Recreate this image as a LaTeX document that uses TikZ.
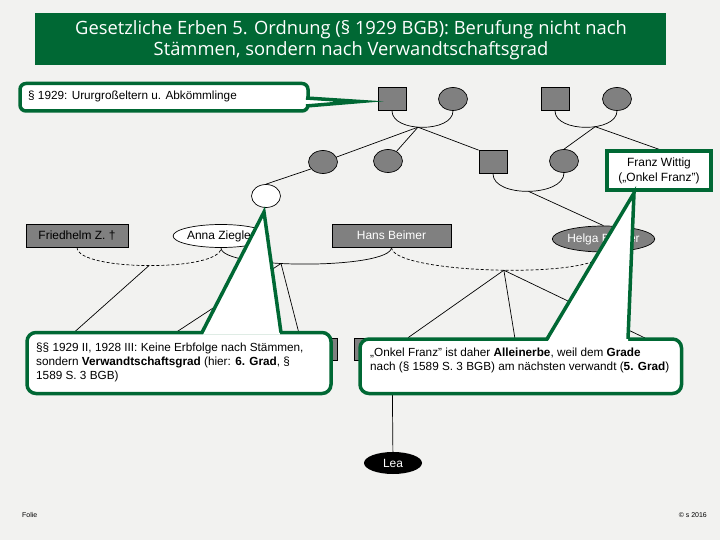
\documentclass[tikz,border=0pt]{standalone}
\usepackage{fontspec}
\setmainfont{Liberation Sans}
\newfontfamily\titlefont{Open Sans}
\usetikzlibrary{shapes.geometric}
\definecolor{bgc}{RGB}{242,242,240}
\definecolor{dgreen}{RGB}{0,104,52}
\definecolor{ngray}{RGB}{128,128,128}
\begin{document}
\begin{tikzpicture}[x=1bp,y=-1bp,
  every node/.style={font=\fontsize{12}{14}\selectfont},
  conn/.style={draw=black, line width=0.7bp},
  dashconn/.style={conn, dash pattern=on 3bp off 2bp},
  sqnode/.style={rectangle, draw=black, fill=ngray, line width=0.7bp, minimum width=28bp, minimum height=23bp, inner sep=0},
  elnode/.style={ellipse, draw=black, fill=ngray, line width=0.7bp, minimum width=29bp, minimum height=23bp, inner sep=0},
  namebox/.style={rectangle, draw=black, fill=ngray, line width=0.7bp, minimum height=23bp, inner sep=0},
  callbox/.style={draw=dgreen, line width=3.5bp, fill=white},
  calline/.style={draw=dgreen, line width=3.5bp, line join=miter, miter limit=20},
  calltext/.style={anchor=base west, inner sep=0, align=left, font=\fontsize{11.8}{14}\selectfont}
]
\fill[bgc] (0,0) rectangle (720,540);
\useasboundingbox (0,0) rectangle (720,540);

% title
\node[fill=dgreen, minimum width=631bp, minimum height=52bp, inner sep=0] (title) at (350.5,39) {};
\node[text=white, align=center, inner sep=0, font=\titlefont\fontsize{18.4}{21}\selectfont] (titletext) at (351,40)
  {Gesetzliche Erben 5. Ordnung (§ 1929 BGB): Berufung nicht nach\\Stämmen, sondern nach Verwandtschaftsgrad};

% generation 1
\node[sqnode] (sq1) at (392,99) {};
\node[elnode] (el1) at (453,99) {};
\node[sqnode] (sq2) at (555,99) {};
\node[elnode] (el2) at (617,99) {};
% generation 2
\node[elnode] (el3) at (323,162) {};
\node[elnode] (el4) at (388,161) {};
\node[sqnode] (sq3) at (493,162) {};
\node[elnode] (el5) at (564,161) {};
% generation 3
\node[elnode, fill=white] (wc) at (266,196) {};
\node[namebox, minimum width=102bp] (fz) at (77,235.5) {Friedhelm Z. †};
\node[ellipse, draw=black, fill=white, line width=0.7bp, minimum width=74bp, minimum height=23bp, inner sep=0] (az) at (221,236) {Anna Ziegler};
\node[namebox, minimum width=119bp, text=white] (hb) at (391.5,235.5) {Hans Beimer};
\node[elnode, minimum width=101bp, minimum height=26bp, text=white] (hel) at (603.5,239) {Helga Beimer};
% generation 4 (mostly hidden)
\node[namebox, minimum width=68bp, minimum height=22bp] (g1) at (303,349) {};
\node[namebox, minimum width=76bp, minimum height=22bp] (g2) at (392,349) {};
\node[ellipse, fill=black, text=white, minimum width=58bp, minimum height=22bp, inner sep=0] (lea) at (393,463) {Lea};

\coordinate (h1) at (70,336);
\coordinate (h2) at (175,333);
\coordinate (h3) at (516,345);
\coordinate (h4) at (645,338);

% partnerships
\draw[conn] (sq1.south) .. controls +(0,22) and +(0,22) .. (el1.south) coordinate[pos=0.45] (m1);
\draw[conn] (sq2.south) .. controls +(0,22) and +(0,22) .. (el2.south) coordinate[pos=0.6] (m2);
\draw[conn] (sq3.south) .. controls +(0,24) and +(0,24) .. (el5.south) coordinate[pos=0.5] (m3);
\draw[dashconn] (fz.south) .. controls +(0,24) and +(0,24) .. (az.south) coordinate[pos=0.5] (m4);
\draw[conn] (az.south) .. controls +(0,22) and +(0,22) .. (hb.south) coordinate[pos=0.4] (m5);
\draw[dashconn] (hb.south) .. controls +(0,27) and +(0,27) .. (hel.south) coordinate[pos=0.52] (m6);

% descent lines
\draw[conn] (m1) -- (el3);
\draw[conn] (m1) -- (el4);
\draw[conn] (m1) -- (sq3.north west);
\draw[conn] (m2) -- (el5.north);
\draw[conn] (el3.210) -- (wc.north);
\draw[conn] (m3) -- (hel.north);
\draw[conn] (m4) -- (h1);
\draw[conn] (m5) -- (h2);
\draw[conn] (m5) -- (g1);
\draw[conn] (m6) -- (g2);
\draw[conn] (m6) -- (h3);
\draw[conn] (m6) -- (h4);
\draw[conn] (g2) -- (lea);

% Franz Wittig box
\node[draw=dgreen, line width=4bp, fill=white, minimum width=104bp, minimum height=39bp, inner sep=0] (fw) at (659,170.8) {};
\draw[conn] (m2) -- (fw.north);
\node[draw=dgreen, line width=4bp, fill=white, minimum width=104bp, minimum height=39bp, inner sep=0, align=center, font=\fontsize{12}{15}\selectfont] (fwb) at (659,170.8) {Franz Wittig\\(„Onkel Franz")};

% small callout
\filldraw[callbox, rounded corners=6] (20,83.5) rectangle (308,111);
\fill[white] (305,98.5) -- (360,101.5) -- (305,105.5) -- cycle;
\draw[calline] (306,98) -- (360,101.5) -- (306,106);
\node[calltext] (c0) at (28,100) {§ 1929: Ururgroßeltern u. Abkömmlinge};

% callout 1
\filldraw[callbox, rounded corners=9] (27,332.5) rectangle (331,393.5);
\fill[white] (203,334.5) -- (264,212) -- (280,334.5) -- cycle;
\draw[calline] (202,332.5) -- (264,212) -- (281,332.5);
\node[calltext] (c1) at (36,379.5) {§§ 1929 II, 1928 III: Keine Erbfolge nach Stämmen,\\sondern \textbf{Verwandtschaftsgrad} (hier: \textbf{6. Grad}, §\\1589 S. 3 BGB)};

% callout 2
\filldraw[callbox, rounded corners=9] (360,339) rectangle (681.5,393.5);
\fill[white] (548,341) -- (634,193) -- (628,341) -- cycle;
\draw[calline] (547,339) -- (634,193) -- (628,339);
\node[calltext] (c2) at (370,370) {„Onkel Franz" ist daher \textbf{Alleinerbe}, weil dem \textbf{Grade}\\nach (§ 1589 S. 3 BGB) am nächsten verwandt (\textbf{5. Grad})};

% footer
\node[anchor=west, inner sep=0, font=\fontsize{7}{8}\selectfont] (folie) at (22,515) {Folie};
\node[anchor=east, inner sep=0, font=\fontsize{7}{8}\selectfont] (copy) at (707,515) {© s 2016};
\end{tikzpicture}
\end{document}
